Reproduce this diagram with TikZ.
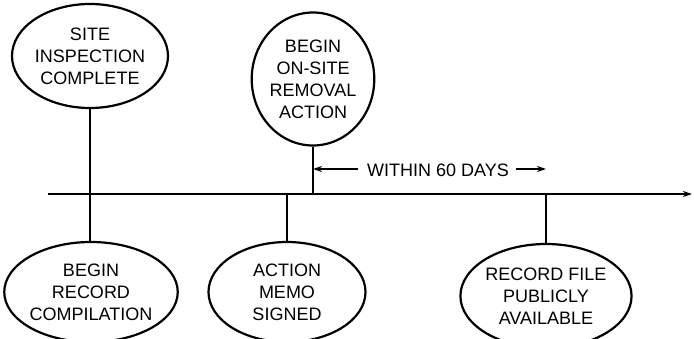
\documentclass[tikz,border=0pt]{standalone}
\usepackage{fontspec}
\setmainfont{Liberation Sans}
\usetikzlibrary{shapes.geometric,arrows.meta}
\begin{document}
\begin{tikzpicture}[x=1pt,y=-1pt,
  event/.style={ellipse,draw,line width=2.2pt,inner sep=0pt,align=center,
    font=\fontsize{18}{22}\selectfont},
  link/.style={line width=1.4pt},
  tip/.style={line width=1.3pt,-{Stealth[length=9pt,width=6pt]}}]
\useasboundingbox (0,0) rectangle (694,339);
\begin{scope}
\clip (0,0) rectangle (694,339);
\node[event,minimum width=156pt,minimum height=104pt] (a) at (90,56) {SITE\\INSPECTION\\COMPLETE};
\node[event,minimum width=114pt,minimum height=133pt] (b) at (313,79) {BEGIN\\ON-SITE\\REMOVAL\\ACTION};
\node[event,minimum width=159pt,minimum height=100pt] (c) at (91,292) {BEGIN\\RECORD\\COMPILATION};
\node[event,minimum width=157pt,minimum height=100pt] (d) at (287,292) {ACTION\\MEMO\\SIGNED};
\node[event,minimum width=158pt,minimum height=104pt] (e) at (546,296) {RECORD FILE\\PUBLICLY\\AVAILABLE};
\coordinate (tlS) at (48,194);
\coordinate (tlE) at (692,194);
\draw[tip] (tlS) -- (tlE);
\draw[link] (a.south) -- (a.south |- c.north);
\draw[link] (b.south) -- (b.south |- tlS);
\draw[link] (d.north) -- (d.north |- tlS);
\draw[link] (e.north) -- (e.north |- tlS);
\node[font=\fontsize{18}{20}\selectfont,inner sep=4pt] (w) at (438,170) {WITHIN 60 DAYS};
\coordinate (wl) at ([xshift=-5pt,yshift=1pt]w.west);
\coordinate (wr) at ([xshift=3pt,yshift=1pt]w.east);
\draw[tip] (wl) -- (b.south |- wl);
\draw[tip] (wr) -- (e.north |- wr);
\end{scope}
\end{tikzpicture}
\end{document}
